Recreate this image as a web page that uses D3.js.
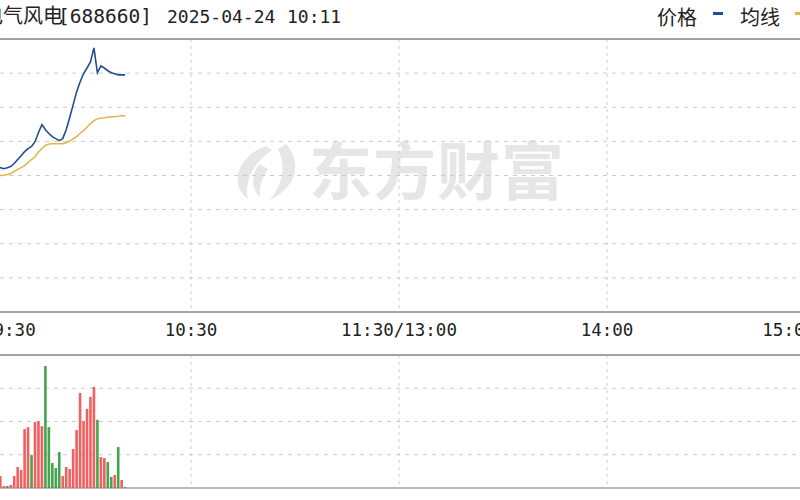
<!DOCTYPE html>
<html><head><meta charset="utf-8">
<script src="https://cdn.jsdelivr.net/npm/d3@7"></script>
<style>body{margin:0;background:#fff;overflow:hidden}</style>
</head><body><svg id="c" width="800" height="500"></svg>
<script>
// ---- data ----
const times = ["09:30","09:31","09:32","09:33","09:34","09:35","09:36","09:37","09:38","09:39",
  "09:40","09:41","09:42","09:43","09:44","09:45","09:46","09:47","09:48","09:49",
  "09:50","09:51","09:52","09:53","09:54","09:55","09:56","09:57","09:58","09:59",
  "10:00","10:01","10:02","10:03","10:04","10:05","10:06","10:07","10:08","10:09",
  "10:10","10:11"];
// change vs previous close (%)
const price = [0.00,0.09,0.15,0.18,0.20,0.23,0.20,0.23,0.26,0.35,
  0.47,0.58,0.70,0.79,0.85,0.99,1.26,1.49,1.34,1.23,
  1.14,1.08,1.02,1.08,1.34,1.69,2.07,2.45,2.74,2.98,
  3.15,3.33,3.74,3.01,3.21,3.15,3.07,3.01,2.98,2.95,
  2.95,2.95];
const avgPrice = [-0.03,-0.03,-0.03,-0.01,-0.01,0.00,0.01,0.03,0.06,0.12,
  0.18,0.23,0.29,0.38,0.47,0.55,0.69,0.79,0.88,0.92,
  0.93,0.93,0.93,0.93,0.96,1.01,1.07,1.14,1.23,1.31,
  1.42,1.52,1.61,1.66,1.68,1.69,1.71,1.72,1.72,1.74,
  1.75,1.75];
const volume = [30000,12000,8000,6000,4000,3600,600,600,900,3600,
  6300,5400,17700,18300,9900,19800,20100,18600,36700,18300,
  7500,6000,10800,3600,6300,5700,11700,17400,28600,20100,
  23800,27400,30400,20500,9300,9000,7800,3300,3900,12300,
  2400,300];
const volDir = [1,1,1,-1,1,1,1,-1,1,1,
  1,1,1,1,-1,1,1,1,-1,-1,
  -1,-1,-1,1,1,1,1,1,1,1,
  1,1,1,-1,1,1,-1,-1,1,-1,
  1,1];
const tickTimes = ["09:30","10:30","11:30","14:00","15:00"];
const tickLabels = ["09:30","10:30","11:30/13:00","14:00","15:00"];
const priceGrid = [-3,-2,-1,0,1,2,3];
const volGrid = [10000,20000,30000];
const titleName = "电气风电";
const titleCode = "[688660]";
const titleDate = "2025-04-24";
const titleTime = "10:11";
const legendNames = ["价格","均线"];

// ---- helpers ----
function tradeMinute(t){
  const [h,m] = t.split(":").map(Number);
  let v = h*60+m - 570;
  if (v > 120) v -= 90;
  return v;
}

const svg = d3.select("#c");
const x = d3.scaleLinear().domain([0,240]).range([-17,815]);
const y = d3.scaleLinear().domain([-4,4]).range([312,39]);
const yv = d3.scaleLinear().domain([0,40000]).range([488,355]);

const gridColor = "#cbcbcb";
const CJK = "'Noto Sans CJK SC','Noto Sans',sans-serif";
const MONO = "'DejaVu Sans Mono','Liberation Mono',monospace";

// watermark
const wm = svg.append("g").attr("fill","#e6e6e6");
wm.append("path").attr("d","M266 146 C238 156 228 184 248 199 C244 182 252 164 272 150 Z");
wm.append("path").attr("d","M286 144 C303 164 296 187 270 200 C282 185 287 168 278 149 Z");
wm.append("path").attr("d","M259 164 C251 176 251 189 260 197 C259 186 263 176 268 169 Z");
wm.append("text").attr("x",309).attr("y",194)
  .attr("font-family",CJK).attr("font-weight",700).attr("font-size",63)
  .attr("letter-spacing",1).text("东方财富");

// horizontal grid (price)
svg.append("g").selectAll("line").data(priceGrid).join("line")
  .attr("x1",0).attr("x2",800).attr("y1",d=>y(d)).attr("y2",d=>y(d))
  .attr("stroke",gridColor).attr("stroke-width",1).attr("stroke-dasharray","4,5");
// horizontal grid (volume)
svg.append("g").selectAll("line").data(volGrid).join("line")
  .attr("x1",0).attr("x2",800).attr("y1",d=>yv(d)).attr("y2",d=>yv(d))
  .attr("stroke",gridColor).attr("stroke-width",1).attr("stroke-dasharray","4,5");
// vertical grid
const innerTicks = tickTimes.slice(1,-1);
svg.append("g").selectAll("line").data(innerTicks).join("line")
  .attr("x1",d=>x(tradeMinute(d))).attr("x2",d=>x(tradeMinute(d)))
  .attr("y1",y(4)).attr("y2",y(-4))
  .attr("stroke",gridColor).attr("stroke-dasharray","3,4");
svg.append("g").selectAll("line").data(innerTicks).join("line")
  .attr("x1",d=>x(tradeMinute(d))).attr("x2",d=>x(tradeMinute(d)))
  .attr("y1",yv(40000)).attr("y2",yv(0))
  .attr("stroke",gridColor).attr("stroke-dasharray","3,4");

// frame lines
[[y(4),2],[y(-4),2],[yv(40000),2],[yv(0),1.5]].forEach(([yy,w])=>{
  svg.append("line").attr("x1",0).attr("x2",800).attr("y1",yy).attr("y2",yy)
    .attr("stroke","#a3a3a3").attr("stroke-width",w);
});

// volume bars
const mins = times.map(tradeMinute);
svg.append("g").selectAll("rect").data(volume).join("rect")
  .attr("x",(d,i)=>x(mins[i])-1.3).attr("width",2.6)
  .attr("y",d=>yv(d)).attr("height",d=>yv(0)-yv(d))
  .attr("fill",(d,i)=>volDir[i]>0?"#f06060":"#45a54c");

// avg line
svg.append("path").datum(avgPrice)
  .attr("fill","none").attr("stroke","#e0b448").attr("stroke-width",1.5)
  .attr("d",d3.line().x((d,i)=>x(mins[i])).y(d=>y(d)));
// price line
svg.append("path").datum(price)
  .attr("fill","none").attr("stroke","#1f4f8f").attr("stroke-width",1.6)
  .attr("d",d3.line().x((d,i)=>x(mins[i])).y(d=>y(d)));

// time labels
svg.append("g").selectAll("text").data(tickLabels).join("text")
  .attr("x",(d,i)=>x(tradeMinute(tickTimes[i])))
  .attr("y",336)
  .attr("text-anchor",(d,i)=>i===0?"start":(i===tickLabels.length-1?"end":"middle"))
  .attr("font-family",MONO).attr("font-size",17.5).attr("fill","#222")
  .text(d=>d);

// title
const tg = svg.append("g").attr("fill","#222");
tg.append("text").attr("x",-17).attr("y",23).attr("font-family",CJK).attr("font-size",20).text(titleName);
tg.append("text").attr("x",58).attr("y",23).attr("font-family",MONO).attr("font-size",19.5).text(titleCode);
tg.append("text").attr("x",167).attr("y",23).attr("font-family",MONO).attr("font-size",18).text(titleDate);
tg.append("text").attr("x",287).attr("y",23).attr("font-family",MONO).attr("font-size",18).text(titleTime);

// legend
tg.append("text").attr("x",657).attr("y",25).attr("font-family",CJK).attr("font-size",20).text(legendNames[0]);
svg.append("rect").attr("x",713).attr("y",12).attr("width",10).attr("height",3).attr("fill","#1f4f8f");
tg.append("text").attr("x",740).attr("y",25).attr("font-family",CJK).attr("font-size",20).text(legendNames[1]);
svg.append("rect").attr("x",795).attr("y",12).attr("width",10).attr("height",3).attr("fill","#e0b448");
</script></body></html>
